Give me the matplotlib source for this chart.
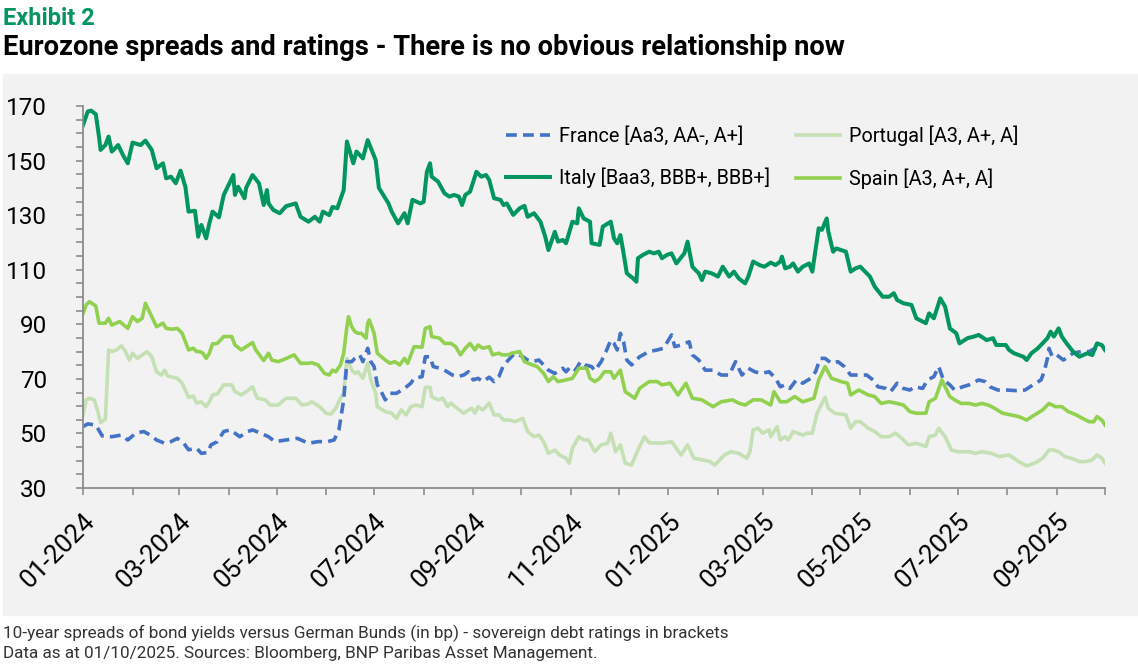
import pandas as pd
import matplotlib
matplotlib.use('Agg')
import matplotlib.pyplot as plt
import matplotlib.dates as mdates
from matplotlib.patches import Rectangle
from matplotlib.ticker import MultipleLocator

plt.rcParams['font.family'] = ['Roboto', 'DejaVu Sans']

# spreads vs Bunds in bp as (days since 2024-01-01, bp)
START = pd.Timestamp('2024-01-01')

france = [
    (0, 52.5), (3, 53.5), (8, 53.1), (12, 49.1), (18, 48.8), (24, 49.4), (28, 47.6), (33, 50.1),
    (38, 50.7), (42, 49.4), (46, 47.6), (51, 46.4), (55, 47), (59, 48.2), (63, 46.4), (66, 44),
    (71, 44.6), (74, 42.7), (78, 43), (80, 45.8), (84, 47), (88, 50.7), (92, 51.3), (95, 50.1),
    (98, 48.8), (103, 50.7), (106, 51.3), (111, 50.1), (116, 48.8), (120, 47), (127, 47.6),
    (134, 48.2), (141, 46.4), (147, 47), (153, 47), (157, 47.6), (160, 51.3), (163, 62.3),
    (165, 76.3), (168, 76.3), (170, 77.5), (173, 78.8), (175, 76.3), (178, 81.2), (180, 76.3),
    (182, 74.5), (184, 67.8), (187, 64.7), (189, 62.3), (192, 64.7), (196, 64.7), (201, 66.5),
    (205, 68.4), (207, 70.2), (212, 70.8), (214, 78.1), (217, 78.1), (219, 74.5), (223, 73.9),
    (226, 73.2), (231, 71.4), (234, 70.8), (238, 71.4), (241, 72.6), (244, 69.6), (247, 70.2),
    (250, 69), (254, 70.6), (257, 69), (260, 70.8), (263, 75.1), (266, 76.9), (269, 78.8),
    (271, 79.4), (275, 78.1), (278, 76.9), (281, 76.3), (285, 76.9), (288, 75.1), (291, 73.2),
    (295, 72), (300, 73.9), (302, 72.6), (305, 74.5), (308, 73.2), (311, 76.3), (314, 75.1),
    (318, 74.5), (320, 73), (324, 76.3), (327, 80), (330, 84.2), (332, 83), (334, 80.6),
    (336, 86.7), (338, 83.6), (340, 76.9), (343, 75.1), (348, 78.1), (354, 80), (359, 80.6),
    (363, 81.2), (368, 86.1), (370, 81.8), (374, 82.4), (379, 83.6), (381, 78.8), (385, 76.9),
    (389, 73.2), (394, 73.2), (399, 71.4), (404, 71.4), (408, 76.3), (412, 71.4), (416, 73.9),
    (420, 72.6), (424, 72), (429, 72.6), (433, 70.2), (436, 67.1), (439, 67.8), (442, 66.5),
    (446, 69.6), (450, 68.4), (455, 70.2), (458, 72.6), (461, 77.5), (464, 77.5), (468, 75.7),
    (472, 76.3), (476, 74.5), (480, 71.4), (485, 71.4), (490, 71.4), (494, 69.6), (497, 67.1),
    (502, 66.5), (505, 65.3), (509, 68.4), (513, 66.5), (517, 65.9), (520, 67.1), (525, 66.5),
    (528, 69.6), (532, 70.8), (535, 74.5), (538, 69.6), (542, 67.8), (545, 65.9), (550, 67.1),
    (554, 67.8), (560, 69.6), (564, 69), (567, 67.1), (572, 65.9), (578, 65.9), (583, 65.7),
    (589, 65.9), (594, 67.8), (599, 69.6), (601, 72.6), (603, 77.5), (604, 81.2), (606, 78.1),
    (609, 78.7), (613, 76.9), (616, 78.1), (619, 79.4), (624, 80), (629, 80), (633, 81.2),
    (639, 80.8),
]

italy = [
    (0, 163), (3, 168), (5, 168.3), (8, 167), (10, 158.8), (11, 153.9), (14, 155.7), (16, 158.8),
    (18, 153.3), (22, 155.7), (25, 152), (28, 149), (31, 156.6), (36, 155.7), (39, 157.3),
    (43, 153.9), (46, 147.2), (50, 149), (52, 143.5), (55, 144.1), (58, 141.7), (61, 146.3),
    (64, 140.4), (66, 131.3), (70, 131.6), (72, 122.1), (74, 126.4), (77, 121.5), (79, 127),
    (81, 131.3), (85, 129.2), (88, 137.4), (94, 144.7), (95, 137.4), (97, 140.4), (101, 136.2),
    (102, 140), (106, 144.7), (110, 141.7), (113, 133.7), (115, 139.2), (116, 134.3),
    (119, 131.9), (123, 130.7), (127, 133.3), (133, 134.3), (136, 129.4), (141, 127.6),
    (145, 129.4), (148, 127.6), (150, 131.3), (154, 130), (156, 133), (159, 132.5), (163, 139.2),
    (165, 157), (169, 149), (171, 153.3), (175, 150.8), (178, 157.5), (183, 150.2), (185, 140),
    (191, 134.3), (193, 131.3), (197, 127), (201, 130.7), (203, 127), (206, 135.6), (211, 134.3),
    (213, 134.9), (215, 145.9), (217, 149), (218, 144.1), (222, 142.3), (226, 138), (229, 136.8),
    (232, 137.4), (235, 136.8), (237, 133.7), (239, 137.4), (242, 138.6), (246, 145.9),
    (249, 144.1), (252, 144.7), (254, 142.9), (257, 136.2), (261, 135.6), (263, 133.7),
    (265, 134.3), (269, 130.1), (273, 132.5), (276, 133.4), (278, 129.4), (282, 130.7),
    (286, 127.6), (289, 122.1), (291, 117.2), (295, 123.9), (297, 120.3), (300, 120.9),
    (302, 119.7), (306, 127.6), (309, 127), (310, 132.5), (313, 128.8), (317, 127.6),
    (318, 119.7), (323, 119.1), (325, 125.8), (330, 127.6), (332, 121.5), (334, 119.7),
    (336, 122.7), (338, 116), (340, 108.7), (344, 106.8), (346, 105.6), (347, 114.2),
    (350, 115.4), (354, 116.6), (357, 116), (360, 116.6), (362, 114.2), (365, 115.4), (368, 116),
    (371, 112.3), (376, 116), (378, 120.3), (381, 111.1), (385, 108.7), (387, 106.2),
    (389, 109.3), (393, 108.7), (397, 107.5), (400, 111.1), (404, 107.5), (407, 109.3),
    (410, 106.8), (414, 105), (416, 107.5), (419, 113), (423, 111.7), (426, 111.1), (430, 112.6),
    (433, 111.7), (436, 113), (437, 114.8), (439, 110.5), (442, 111.1), (444, 112.3),
    (447, 109.3), (450, 111.1), (454, 112.3), (456, 109.3), (460, 125.2), (462, 124.6),
    (465, 128.8), (466, 124), (469, 116.6), (471, 117.8), (477, 116.6), (480, 109.3),
    (483, 110.5), (486, 111.1), (492, 107.5), (495, 103.8), (500, 100.1), (504, 100.1),
    (507, 101.4), (509, 98.9), (513, 97.7), (518, 97.1), (521, 92.2), (527, 90.4), (529, 94),
    (532, 92.2), (536, 99.5), (539, 96.5), (542, 88.5), (546, 86.7), (548, 83), (553, 84.9),
    (557, 85.5), (560, 86.1), (565, 84.2), (569, 84.9), (571, 82.4), (577, 82.4), (579, 80.6),
    (582, 79.4), (588, 78.1), (590, 76.9), (593, 79.4), (597, 81.2), (603, 84.9), (605, 87.3),
    (607, 85.5), (610, 88.5), (612, 85.5), (615, 83), (619, 80), (623, 78.1), (628, 79.4),
    (631, 78.7), (634, 83), (637, 82.4), (639, 80.6),
]

portugal = [
    (0, 56.8), (2, 62.3), (4, 62.9), (7, 62.3), (9, 58.6), (11, 54), (14, 55.2), (16, 80.6),
    (18, 80), (21, 80.6), (24, 82.1), (26, 80.6), (29, 76.9), (31, 79.4), (34, 77.5), (40, 80),
    (43, 78.1), (46, 72.6), (49, 71.4), (51, 73.2), (53, 71), (56, 70.6), (59, 70.2), (62, 68.4),
    (66, 63.2), (69, 63.7), (71, 61.1), (74, 61.6), (77, 59.8), (79, 61.6), (81, 64.1),
    (84, 64.5), (88, 67.8), (93, 67.8), (95, 65.3), (99, 64.1), (102, 65.3), (106, 67.1),
    (109, 62.9), (114, 62.3), (117, 60.4), (122, 60.4), (127, 62.9), (133, 62.9), (137, 60.4),
    (141, 60.8), (143, 61.6), (148, 59.8), (152, 57.4), (155, 57.1), (158, 59.2), (161, 62.9),
    (163, 64.7), (165, 77.5), (168, 73.2), (170, 72), (172, 72.6), (175, 70.2), (178, 75.7),
    (180, 69.6), (183, 64.7), (184, 59.8), (189, 58), (193, 57.4), (196, 55.5), (199, 58.6),
    (202, 56.8), (205, 59.8), (208, 60.4), (212, 59.8), (214, 66.9), (217, 66.9), (218, 63.5),
    (222, 62.3), (225, 62.9), (228, 59.8), (230, 61.1), (234, 59.2), (238, 57.4), (241, 58.6),
    (243, 59.2), (245, 57.4), (247, 59.8), (250, 58.6), (254, 61.1), (257, 56.8), (260, 56.8),
    (263, 54.9), (267, 54.9), (270, 54.3), (275, 55.5), (278, 50.7), (282, 48.8), (285, 49.4),
    (288, 47), (291, 42.7), (295, 43.9), (298, 42.1), (302, 40.9), (304, 39.1), (306, 44.6),
    (310, 48.8), (313, 47.6), (316, 47.6), (320, 43.3), (324, 45.8), (328, 46.4), (330, 50.1),
    (333, 43.3), (336, 45.8), (339, 39.1), (343, 38.4), (346, 42.7), (351, 48.8), (354, 46.6),
    (362, 46.4), (368, 47), (374, 42.1), (378, 45.8), (382, 40.9), (387, 40.3), (392, 39.7),
    (395, 38.4), (401, 42.1), (405, 43.3), (410, 42.7), (415, 40.9), (417, 43.3), (419, 51.3),
    (422, 51.9), (425, 50.1), (429, 51.3), (430, 48.8), (434, 52.5), (436, 47.6), (439, 48.8),
    (441, 47.6), (444, 50.7), (450, 49.4), (453, 50.1), (456, 50.1), (459, 57.4), (462, 61),
    (464, 63.2), (466, 59.2), (470, 57.4), (477, 56.8), (480, 51.9), (483, 54.3), (486, 54.3),
    (491, 51.9), (495, 50.7), (499, 48.8), (504, 48.8), (508, 50.1), (512, 48.2), (516, 45.8),
    (521, 46.4), (527, 45.2), (529, 48.8), (533, 49.4), (535, 51.9), (539, 48.8), (543, 43.9),
    (547, 43.3), (554, 43.3), (558, 42.7), (562, 43.3), (568, 42.7), (573, 41.5), (579, 42.1),
    (585, 39.7), (590, 38.1), (595, 39.1), (600, 40.9), (604, 43.9), (607, 43.9), (610, 43.3),
    (614, 41.5), (618, 40.9), (623, 39.7), (627, 39.7), (631, 40.3), (634, 42.1), (637, 40.9),
    (639, 39.1),
]

spain = [
    (0, 94), (2, 97.1), (4, 98.3), (8, 96.7), (10, 90.4), (14, 90.4), (16, 92.2), (18, 89.7),
    (23, 91), (28, 88.5), (31, 92.8), (34, 91), (37, 92.2), (39, 97.7), (42, 94), (46, 89.1),
    (50, 90.4), (52, 88.5), (56, 88.2), (59, 88.5), (62, 86.7), (66, 80.6), (69, 81.2), (71, 80),
    (73, 80), (75, 79.4), (77, 77.5), (79, 79.4), (81, 82.8), (84, 83), (88, 85.5), (93, 85.5),
    (95, 82.4), (99, 80.6), (102, 81.8), (106, 83.3), (108, 80.6), (113, 76.7), (116, 79.4),
    (118, 76.9), (122, 76.3), (126, 77.2), (132, 78.8), (136, 75.7), (141, 75.7), (143, 75.9),
    (147, 75.1), (151, 72), (154, 71.4), (156, 73.2), (158, 72.6), (161, 75.1), (163, 79.4),
    (165, 89.1), (166, 92.8), (168, 89.1), (170, 87.3), (172, 86.7), (174, 86.7), (177, 84.9),
    (178, 90.4), (179, 91.6), (182, 86.7), (184, 79.4), (189, 76.9), (192, 75.7), (195, 76.3),
    (198, 75.1), (201, 77.5), (203, 75.7), (207, 81.8), (212, 81.6), (214, 88.5), (217, 89.1),
    (218, 85.5), (223, 84.9), (226, 83), (230, 83), (233, 81.8), (236, 78.8), (239, 81.2),
    (242, 83), (245, 80.6), (247, 82.4), (250, 81.2), (254, 81.8), (256, 78.8), (260, 79.4),
    (262, 78.8), (266, 78.8), (268, 79.4), (273, 80), (276, 76.3), (281, 75.1), (284, 74.5),
    (288, 72), (291, 69), (294, 70.8), (297, 69), (302, 69.6), (306, 70.2), (310, 73.9),
    (315, 73.9), (317, 70.2), (320, 69), (323, 70.2), (326, 72.6), (330, 72.6), (332, 70.2),
    (336, 73.2), (339, 65.3), (345, 62.9), (348, 66.5), (354, 69), (359, 69), (362, 67.8),
    (367, 68.4), (372, 64.1), (377, 68.4), (381, 62.9), (387, 62.3), (394, 59.8), (399, 61.6),
    (406, 62.3), (410, 61.1), (414, 60.4), (419, 62.3), (424, 62.3), (430, 60.4), (432, 65.3),
    (436, 61.6), (440, 61.6), (445, 63.5), (450, 61.6), (457, 62.9), (460, 69.6), (464, 74.5),
    (468, 70.2), (474, 69), (478, 68.4), (480, 64.1), (485, 65.9), (487, 65.3), (491, 64.1),
    (495, 63.5), (499, 61), (504, 61.6), (509, 61), (513, 60.4), (517, 58), (521, 57.4),
    (527, 57.4), (529, 61.6), (533, 62.9), (537, 69.6), (538, 68.4), (542, 63.5), (545, 62.3),
    (549, 61), (554, 61), (558, 60.4), (562, 61), (566, 60.4), (570, 59.2), (575, 57.4),
    (580, 56.8), (585, 56.2), (590, 54.9), (595, 56.8), (600, 58.6), (604, 61), (608, 59.8),
    (612, 59.8), (616, 58), (621, 56.8), (625, 55.5), (629, 54.3), (632, 54.3), (634, 56.2),
    (637, 54.9), (639, 53.1),
]

labels = ['France [Aa3, AA-, A+]', 'Italy [Baa3, BBB+, BBB+]',
          'Portugal [A3, A+, A]', 'Spain [A3, A+, A]']
colors = ['#4472C4', '#00965E', '#C5E0B4', '#92D050']
y_ticks = [30, 50, 70, 90, 110, 130, 150, 170]


def to_frame(pairs):
    df = pd.DataFrame(pairs, columns=['day', 'bp'])
    df['date'] = START + pd.to_timedelta(df['day'], unit='D')
    return df


W, H = 1138, 664
fig = plt.figure(figsize=(W / 100, H / 100), dpi=100)

# grey chart panel, kept behind the axes
fig.patches.append(Rectangle((3 / W, 1 - 615 / H), 1135 / W, 541 / H,
                             transform=fig.transFigure, color='#F2F2F2', zorder=-10))

ax = fig.add_axes([83 / W, 1 - 488 / H, 1022 / W, 382 / H])
ax.set_facecolor('none')

lines = {}
for name, pairs, col, lab in [('portugal', portugal, colors[2], labels[2]),
                              ('france', france, colors[0], labels[0]),
                              ('spain', spain, colors[3], labels[3]),
                              ('italy', italy, colors[1], labels[1])]:
    df = to_frame(pairs)
    ls = (0, (3.0, 1.7)) if name == 'france' else '-'
    lw = 2.9 if name == 'italy' else 2.6
    lines[name], = ax.plot(df['date'], df['bp'], color=col, lw=lw, ls=ls, label=lab,
                           solid_joinstyle='round')

ax.set_ylim(30, 170)
ax.set_xlim(START, pd.Timestamp('2025-10-01'))
ax.set_yticks(y_ticks)
ax.yaxis.set_minor_locator(MultipleLocator(5))
ax.xaxis.set_major_locator(mdates.MonthLocator(bymonth=[1, 3, 5, 7, 9, 11]))
ax.xaxis.set_minor_locator(mdates.MonthLocator())
ax.xaxis.set_major_formatter(mdates.DateFormatter('%m-%Y'))

for s in ['top', 'right']:
    ax.spines[s].set_visible(False)
for s in ['left', 'bottom']:
    ax.spines[s].set_color('#8c8c8c')
    ax.spines[s].set_linewidth(1.3)

ax.tick_params(which='both', direction='out', length=5, width=1.2, color='#8c8c8c')
ax.tick_params(axis='y', labelsize=17.5, pad=21)
ax.tick_params(axis='x', labelsize=18.5, pad=10)
plt.setp(ax.get_xticklabels(), rotation=45, ha='right', va='top', rotation_mode='anchor')

# two legend columns placed separately
leg_kw = dict(loc='upper left', frameon=False, fontsize=14.3, handlelength=2.2,
              handletextpad=0.45, labelspacing=1.1, borderpad=0)
leg1 = fig.legend(handles=[lines['france'], lines['italy']],
                  labels=[labels[0], labels[1]], bbox_to_anchor=(496 / W, 1 - 116 / H), **leg_kw)
leg2 = fig.legend(handles=[lines['portugal'], lines['spain']],
                  labels=[labels[2], labels[3]], bbox_to_anchor=(786 / W, 1 - 116 / H), **leg_kw)

fig.text(3 / W, 1 - 25 / H, 'Exhibit 2', color='#00965E', fontsize=17,
         fontweight='bold', va='baseline')
fig.text(3 / W, 1 - 55 / H,
         'Eurozone spreads and ratings - There is no obvious relationship now',
         color='black', fontsize=19.7, fontweight='bold', va='baseline')
fig.text(3 / W, 1 - 638 / H,
         '10-year spreads of bond yields versus German Bunds (in bp) - sovereign debt ratings in brackets',
         color='#333333', fontsize=12.3, va='baseline')
fig.text(3 / W, 1 - 658 / H,
         'Data as at 01/10/2025. Sources: Bloomberg, BNP Paribas Asset Management.',
         color='#333333', fontsize=12.3, va='baseline')

fig.savefig('out.png', dpi=100)
